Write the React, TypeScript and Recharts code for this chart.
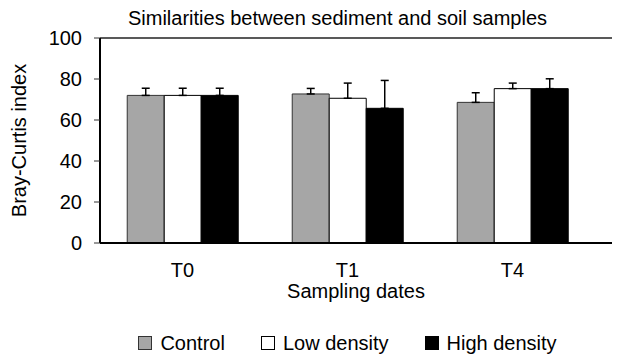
import { Bar, BarChart, ErrorBar, ReferenceLine, XAxis, YAxis } from "recharts";

// Bray-Curtis similarity by sampling date, mean with upper standard error
const dates = ["T0", "T1", "T4"];
const control = [72, 72.7, 68.6];
const controlErr = [3.5, 2.7, 4.7];
const lowDensity = [72, 70.6, 75.3];
const lowDensityErr = [3.5, 7.4, 2.7];
const highDensity = [72, 65.7, 75.3];
const highDensityErr = [3.5, 13.6, 4.8];

const yTicks = [0, 20, 40, 60, 80, 100];
const edgeTicks = [0, 1, 2, 3];

const series = [
  { key: "control", name: "Control", fill: "#a6a6a6", stroke: "#333" },
  { key: "low", name: "Low density", fill: "#ffffff", stroke: "#000" },
  { key: "high", name: "High density", fill: "#000000", stroke: "#000" },
];

// error bars only point upward, so the lower bound is 0
const data = dates.map((date, i) => ({
  date,
  slot: i + 0.5,
  control: control[i],
  controlErr: [0, controlErr[i]],
  low: lowDensity[i],
  lowErr: [0, lowDensityErr[i]],
  high: highDensity[i],
  highErr: [0, highDensityErr[i]],
}));

const FONT = '"Liberation Sans", Arial, sans-serif';
const FS = 20;
const AXIS_PAD = { left: 0, right: 17 };

export default function App() {
  return (
    <div
      style={{
        position: "fixed",
        left: 0,
        top: 0,
        width: 626,
        height: 361,
        overflow: "hidden",
        background: "#fff",
        fontFamily: FONT,
        color: "#000",
      }}
    >
      <div
        style={{
          position: "absolute",
          top: 8,
          left: 90,
          width: 495,
          textAlign: "center",
          fontSize: FS,
          lineHeight: `${FS}px`,
          whiteSpace: "nowrap",
        }}
      >
        Similarities between sediment and soil samples
      </div>

      <BarChart
        width={626}
        height={361}
        data={data}
        margin={{ top: 38, right: 14, left: 0, bottom: 88 }}
        barCategoryGap="16.5%"
        barGap={0}
        style={{ fontFamily: FONT }}
      >
        {/* boundary ticks between the date groups */}
        <XAxis
          xAxisId="edges"
          type="number"
          dataKey="slot"
          domain={[0, 3]}
          ticks={edgeTicks}
          padding={AXIS_PAD}
          height={0}
          axisLine={false}
          tick={false}
          tickSize={5}
          tickLine={{ stroke: "#333", strokeWidth: 1 }}
        />
        <XAxis
          dataKey="date"
          height={30}
          padding={AXIS_PAD}
          axisLine={{ stroke: "#000", strokeWidth: 2 }}
          tickLine={false}
          tickSize={0}
          tickMargin={20}
          tick={{ fontSize: FS, fill: "#000" }}
          label={{ value: "Sampling dates", position: "bottom", offset: 11, fontSize: FS, fill: "#000" }}
        />
        <YAxis
          domain={[0, 100]}
          ticks={yTicks}
          width={100}
          axisLine={{ stroke: "#000", strokeWidth: 2 }}
          tickLine={{ stroke: "#333", strokeWidth: 1 }}
          tickSize={6}
          tickMargin={12}
          tick={{ fontSize: FS, fill: "#000" }}
          label={{ value: "Bray-Curtis index", angle: -90, position: "center", dx: -31, fontSize: FS, fill: "#000" }}
        />
        <ReferenceLine y={100} stroke="#222" strokeWidth={1.5} />
        {series.map((s) => (
          <Bar
            key={s.key}
            dataKey={s.key}
            name={s.name}
            fill={s.fill}
            stroke={s.stroke}
            strokeWidth={1}
            isAnimationActive={false}
          >
            <ErrorBar dataKey={`${s.key}Err`} direction="y" width={4} stroke="#000" strokeWidth={1.5} />
          </Bar>
        ))}
      </BarChart>

      <div
        style={{
          position: "absolute",
          top: 333,
          left: 100,
          width: 495,
          display: "flex",
          justifyContent: "center",
          alignItems: "center",
          fontSize: FS,
          lineHeight: `${FS}px`,
          whiteSpace: "nowrap",
        }}
      >
        {series.map((s, i) => (
          <div key={s.key} style={{ display: "flex", alignItems: "center", marginLeft: i === 0 ? 0 : 36 }}>
            <span
              style={{
                width: 12,
                height: 12,
                background: s.fill,
                border: `1px solid ${s.stroke}`,
                marginRight: 8,
              }}
            />
            <span>{s.name}</span>
          </div>
        ))}
      </div>
    </div>
  );
}
